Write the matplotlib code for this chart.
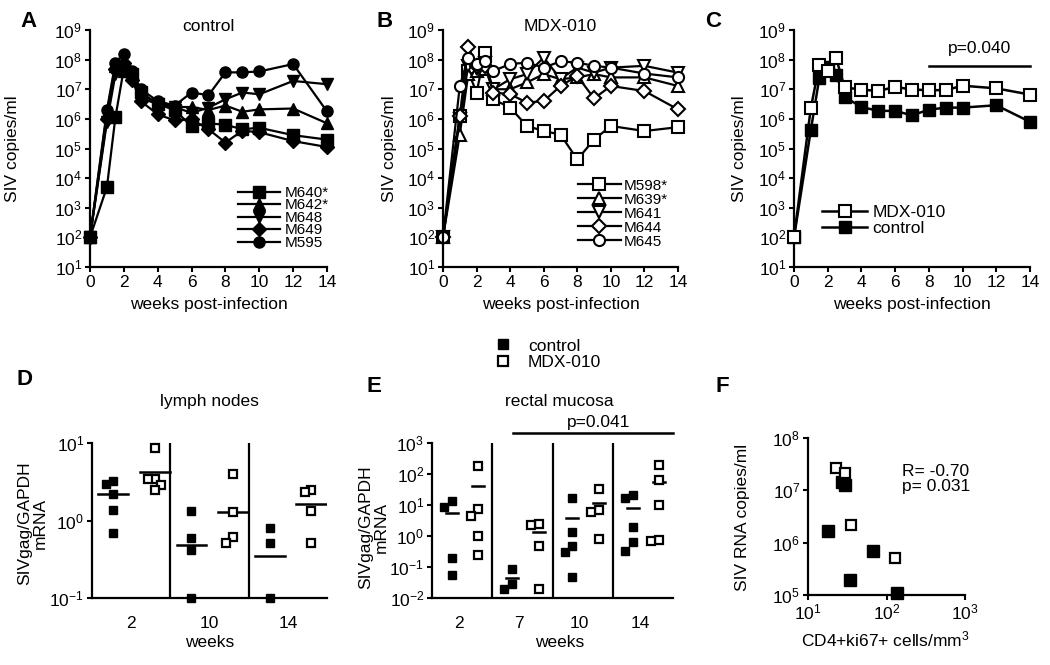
import numpy as np
import matplotlib
matplotlib.use('Agg')
import matplotlib.pyplot as plt
from matplotlib.lines import Line2D
from matplotlib.ticker import FixedLocator, NullLocator, FuncFormatter

plt.rcParams['font.family'] = ['Liberation Sans', 'DejaVu Sans']
plt.rcParams['mathtext.fontset'] = 'custom'
plt.rcParams['mathtext.rm'] = 'Liberation Sans'
plt.rcParams['mathtext.it'] = 'Liberation Sans:italic'
plt.rcParams['mathtext.bf'] = 'Liberation Sans:bold'
plt.rcParams['font.size'] = 12.5
plt.rcParams['axes.linewidth'] = 1.6

# ---- data (log10 SIV copies/ml) ----
weeks = [0, 1, 1.5, 2, 2.5, 3, 4, 5, 6, 7, 8, 9, 10, 12, 14]

ctrl_names = ['M640*', 'M642*', 'M648', 'M649', 'M595']
ctrl_log = [
    [2, 3.7, 6.05, 7.7, 7.5, 6.9, 6.5, 6.3, 5.75, 5.85, 5.8, 5.65, 5.7, 5.45, 5.3],
    [2, 6.2, 7.8, 7.6, 7.5, 6.8, 6.55, 6.4, 6.4, 6.3, 6.45, 6.24, 6.32, 6.35, 5.85],
    [2, 5.9, 7.5, 7.7, 7.4, 6.7, 6.5, 6.4, 6.2, 6.38, 6.66, 6.89, 6.83, 7.28, 7.17],
    [2, 6.0, 7.7, 7.9, 7.3, 6.6, 6.15, 5.95, 5.98, 5.65, 5.2, 5.6, 5.55, 5.25, 5.05],
    [2, 6.3, 7.9, 8.2, 7.6, 7.0, 6.6, 6.45, 6.89, 6.8, 7.57, 7.57, 7.6, 7.85, 6.25],
]

mdx_names = ['M598*', 'M639*', 'M641', 'M644', 'M645']
mdx_log = [
    [2, 6.1, 7.6, 6.89, 8.24, 6.66, 6.38, 5.76, 5.59, 5.47, 4.63, 5.3, 5.76, 5.59, 5.72],
    [2, 5.47, 7.5, 7.6, 7.7, 7.0, 7.0, 7.23, 7.51, 7.34, 7.4, 7.51, 7.4, 7.4, 7.11],
    [2, 6.0, 7.8, 7.7, 7.9, 7.0, 7.34, 7.51, 8.07, 7.35, 7.73, 7.56, 7.73, 7.79, 7.56],
    [2, 6.1, 8.43, 7.8, 7.8, 6.89, 6.83, 6.55, 6.6, 7.11, 7.45, 6.69, 7.11, 6.94, 6.32],
    [2, 7.11, 8.07, 7.85, 7.96, 7.62, 7.85, 7.9, 7.73, 7.94, 7.9, 7.79, 7.73, 7.53, 7.4],
]

mdx_avg_log = [2, 6.37, 7.82, 7.6, 8.05, 7.06, 6.99, 6.94, 7.08, 6.99, 6.97, 6.97, 7.12, 7.03, 6.82]
ctrl_avg_log = [2, 5.63, 7.37, 7.75, 7.48, 6.74, 6.4, 6.27, 6.27, 6.12, 6.31, 6.38, 6.38, 6.46, 5.9]

# lymph nodes, SIVgag/GAPDH mRNA
ln_weeks = ['2', '10', '14']
ln_ctrl = [[3.2, 3.0, 2.2, 1.38, 0.70], [1.31, 0.59, 0.42, 0.1], [0.8, 0.51, 0.1]]
ln_mdx = [[8.5, 3.4, 3.4, 2.9, 2.5], [4.0, 1.27, 0.61, 0.51], [2.5, 2.3, 1.31, 0.51]]
ln_ctrl_bar = [2.2, 0.49, 0.35]
ln_mdx_bar = [4.2, 1.27, 1.65]

# rectal mucosa
rm_weeks = ['2', '7', '10', '14']
rm_ctrl = [[13, 8.6, 0.195, 0.056], [0.087, 0.029, 0.019],
           [17, 1.35, 0.46, 0.30, 0.047], [21, 17, 1.9, 0.64, 0.34]]
rm_mdx = [[186, 7.6, 4.3, 0.98, 0.25], [2.5, 2.2, 0.49, 0.02],
          [34, 7.1, 5.9, 0.8], [200, 66, 10, 0.76, 0.68]]

# correlation
f_ctrl_x = [18, 27, 30, 34, 67, 135]
f_ctrl_y = [1.7e6, 1.45e7, 1.25e7, 1.9e5, 6.8e5, 1.1e5]
f_mdx_x = [23, 30, 35, 130]
f_mdx_y = [2.7e7, 2.1e7, 2.2e6, 5e5]


W, H = 1050, 665
fig = plt.figure(figsize=(W / 100, H / 100), dpi=100)


def px_axes(l, t, r, b):
    return fig.add_axes([l / W, 1 - b / H, (r - l) / W, (b - t) / H])


def dec_fmt(v, pos):
    return r'$10^{%d}$' % round(np.log10(v))


def log_y(ax, lo, hi):
    ax.set_yscale('log')
    ax.set_ylim(10.0 ** lo, 10.0 ** hi)
    ax.yaxis.set_major_locator(FixedLocator([10.0 ** k for k in range(lo, hi + 1)]))
    ax.yaxis.set_minor_locator(NullLocator())
    ax.yaxis.set_major_formatter(FuncFormatter(dec_fmt))
    for s in ['top', 'right']:
        ax.spines[s].set_visible(False)
    ax.tick_params(direction='out', length=3.6, width=1.5, pad=2)


def time_axes(ax):
    log_y(ax, 1, 9)
    ax.set_xlim(0, 14)
    ax.set_xticks(range(0, 15, 2))
    ax.set_xlabel('weeks post-infection')
    ax.xaxis.set_label_coords(0.5, -0.125)
    ax.set_ylabel('SIV copies/ml')


# ---- A ----
axA = px_axes(90, 30, 327, 267)
time_axes(axA)
for name, vals, m in zip(ctrl_names, ctrl_log, ['s', '^', 'v', 'D', 'o']):
    axA.plot(weeks, 10.0 ** np.array(vals), color='k', lw=1.6, marker=m,
             ms=7 if m == 'D' else 8, mfc='k', mec='k', clip_on=False, label=name)
axA.yaxis.set_label_coords(-0.295, 0.5)
axA.text(0.5, 1.013, 'control', transform=axA.transAxes, ha='center', va='center')
axA.legend(loc='center left', bbox_to_anchor=(0.624, 0.207), frameon=False, fontsize=11,
           handlelength=2.75, handletextpad=0.33, labelspacing=-0.1,
           borderpad=0, borderaxespad=0)

# ---- B ----
axB = px_axes(443, 30, 678, 267)
time_axes(axB)
for name, vals, m in zip(mdx_names, mdx_log, ['s', '^', 'v', 'D', 'o']):
    axB.plot(weeks, 10.0 ** np.array(vals), color='k', lw=1.6, marker=m,
             ms=7 if m == 'D' else 8, mfc='white', mec='k', mew=1.5,
             clip_on=False, label=name)
axB.yaxis.set_label_coords(-0.196, 0.5)
axB.text(0.5, 1.013, 'MDX-010', transform=axB.transAxes, ha='center', va='center')
axB.legend(loc='center left', bbox_to_anchor=(0.574, 0.225), frameon=False, fontsize=11,
           handlelength=2.8, handletextpad=0.2, labelspacing=0.0,
           borderpad=0, borderaxespad=0)

# ---- C ----
axC = px_axes(794, 30, 1030, 267)
time_axes(axC)
axC.plot(weeks, 10.0 ** np.array(ctrl_avg_log), color='k', lw=1.8, marker='s', ms=8,
         mfc='k', mec='k', clip_on=False, label='control', zorder=3)
axC.plot(weeks, 10.0 ** np.array(mdx_avg_log), color='k', lw=1.8, marker='s', ms=8,
         mfc='white', mec='k', mew=1.5, clip_on=False, label='MDX-010', zorder=4)
axC.yaxis.set_label_coords(-0.199, 0.5)
axC.plot([8, 14], [6e7, 6e7], color='k', lw=1.8, clip_on=False)
axC.text(11, 1.35e8, 'p=0.040', ha='center', va='bottom')
hC, lC = axC.get_legend_handles_labels()
axC.legend(hC[::-1], lC[::-1], loc='center left', bbox_to_anchor=(0.119, 0.198),
           frameon=False, handlelength=2.6, handletextpad=0.3, labelspacing=0.05,
           borderpad=0, borderaxespad=0)


# ---- dot plots ----
def dodge(vals, thr, step):
    logs = np.log10(vals)
    offs = np.zeros(len(vals))
    placed = []
    for i in np.argsort(logs)[::-1]:
        for o in [0, -step, step, -2 * step, 2 * step]:
            if all(abs(logs[i] - pv) > thr or abs(o - po) > step * 0.5 for pv, po in placed):
                break
        offs[i] = o
        placed.append((logs[i], o))
    return offs


def dotplot(ax, ctrl, mdx, cbar, mbar, cpos, mpos, thr, step, hw, labels, tickpos):
    n = len(ctrl)
    for g in range(n):
        xs = g + cpos + dodge(ctrl[g], thr, step)
        ax.plot(xs, ctrl[g], 's', color='k', ms=6.3, clip_on=False, zorder=3)
        xs = g + mpos + dodge(mdx[g], thr, step)
        ax.plot(xs, mdx[g], 's', mfc='white', mec='k', mew=1.6, ms=6.3, clip_on=False, zorder=3)
        ax.plot([g + cpos - hw, g + cpos + hw], [cbar[g]] * 2, color='k', lw=1.8)
        ax.plot([g + mpos - hw, g + mpos + hw], [mbar[g]] * 2, color='k', lw=1.8)
    for k in range(1, n):
        ax.axvline(k, color='k', lw=1.6)
    ax.set_xlim(0, n)
    ax.set_xticks([g + tickpos for g in range(n)])
    ax.set_xticklabels(labels)
    ax.tick_params(axis='x', length=0, pad=13)
    ax.set_xlabel('weeks')
    ax.set_ylabel('SIVgag/GAPDH\nmRNA', multialignment='center', linespacing=1.05)


# ---- D ----
axD = px_axes(92, 443, 327, 598)
log_y(axD, -1, 1)
dotplot(axD, ln_ctrl, ln_mdx, ln_ctrl_bar, ln_mdx_bar, 0.27, 0.8, 0.13, 0.086, 0.19,
        ln_weeks, 0.5)
axD.xaxis.set_label_coords(0.502, -0.24)
axD.yaxis.set_label_coords(-0.187, 0.484)
axD.text(0.5, 1.265, 'lymph nodes', transform=axD.transAxes, ha='center', va='center')

# ---- E ----
axE = px_axes(432, 443, 673, 598)
log_y(axE, -2, 3)
rm_ctrl_bar = [np.mean(v) for v in rm_ctrl]
rm_mdx_bar = [np.mean(v) for v in rm_mdx]
dotplot(axE, rm_ctrl, rm_mdx, rm_ctrl_bar, rm_mdx_bar, 0.33, 0.77, 0.32, 0.13, 0.1,
        rm_weeks, 0.45)
axE.xaxis.set_label_coords(0.53, -0.24)
axE.yaxis.set_label_coords(-0.18, 0.458)
axE.text(0.53, 1.265, 'rectal mucosa', transform=axE.transAxes, ha='center', va='center')
tE = axE.get_xaxis_transform()
axE.plot([1.34, 4.0], [1.065, 1.065], color='k', lw=1.8, transform=tE, clip_on=False)
axE.text(2.76, 1.085, 'p=0.041', transform=tE, ha='center', va='bottom')

# ---- F ----
axF = px_axes(808, 438, 965, 595)
log_y(axF, 5, 8)
axF.set_xscale('log')
axF.set_xlim(10, 1000)
axF.xaxis.set_major_locator(FixedLocator([10, 100, 1000]))
axF.xaxis.set_minor_locator(NullLocator())
axF.xaxis.set_major_formatter(FuncFormatter(dec_fmt))
axF.plot(f_ctrl_x, f_ctrl_y, 's', color='k', ms=8, clip_on=False, zorder=3)
axF.plot(f_mdx_x, f_mdx_y, 's', mfc='white', mec='k', mew=1.6, ms=7.5, clip_on=False, zorder=4)
axF.set_xlabel('CD4+ki67+ cells/mm$^3$')
axF.set_ylabel('SIV RNA copies/ml')
axF.xaxis.set_label_coords(0.49, -0.22)
axF.yaxis.set_label_coords(-0.37, 0.497)
axF.text(0.6, 0.74, 'R= -0.70\np= 0.031', transform=axF.transAxes, ha='left', va='center',
         linespacing=1.0)

# ---- shared legend ----
leg_handles = [Line2D([], [], ls='none', marker='s', ms=7, mfc='k', mec='k'),
               Line2D([], [], ls='none', marker='s', ms=7, mfc='white', mec='k', mew=1.6)]
fig.legend(leg_handles, ['control', 'MDX-010'], loc='center left',
           bbox_to_anchor=(494 / W, 1 - 354 / H), frameon=False, handlelength=1.0,
           handletextpad=0.95, labelspacing=0.05, borderpad=0, borderaxespad=0)

# ---- panel letters ----
for letter, x, y in [('A', 28, 27), ('B', 385, 27), ('C', 713, 27),
                     ('D', 24, 385), ('E', 374, 392), ('F', 722, 392)]:
    fig.text(x / W, 1 - y / H, letter, fontsize=16, fontweight='bold',
             ha='center', va='baseline')

fig.savefig('out.png', dpi=100)
